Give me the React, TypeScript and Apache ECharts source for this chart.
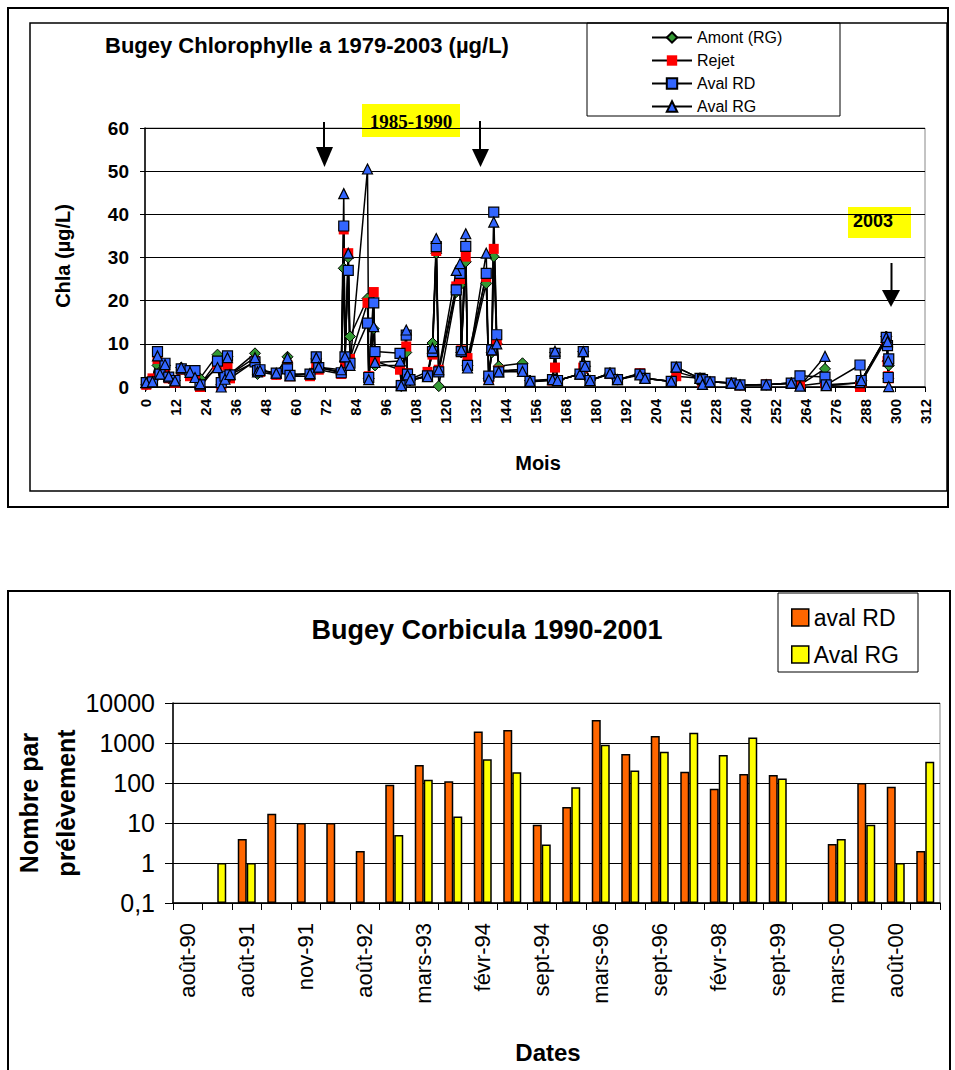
import React, { useEffect, useRef } from 'react';
import * as echarts from 'echarts';

// ---------- Chart 1 : Bugey Chlorophylle a (µg/L) ----------
const chlaMonths = [
  0.5, 3, 5, 6, 8, 9.5, 12, 14.5, 18, 20, 22,
  29, 30.5, 32, 33, 34,
  44, 45, 46, 52.5, 57, 58, 66, 68.5, 69.5,
  78.5, 79.5, 80, 81.3, 82,
  89, 89.5, 91.5, 92,
  102, 102.5, 104.5, 105, 106,
  113, 115, 116.5, 117.5,
  124.5, 126, 126.5, 128.3, 129,
  136.5, 137.5, 138.7, 139.5, 140.7, 141.5,
  151, 154,
  163, 164, 165,
  174, 175.3, 176, 178,
  186, 189,
  198, 200,
  210.5, 212.5,
  222, 223, 226,
  234.5, 238,
  248.5,
  258.5, 262,
  272, 272.5,
  286, 286.5,
  296.5, 297, 297.3, 297.5,
];
const amontRG = [
  0.5, 1.5, 5, 3.5, 5, 2, 1.5, 4.5, 3.5, 2.5, 2,
  7.5, 0.5, 2, 7, 3,
  7.8, 3, 4, 3, 7, 3, 3, 6.5, 4.5,
  3.5, 27.5, 6, 30, 11.7,
  20.5, 2, 13.5, 5,
  5, 0.2, 8, 3, 1.5,
  2.5, 10.2, 31, 0.2,
  22, 23.6, 8, 29, 5,
  24, 2, 8, 30.2, 10, 4.8,
  5.5, 1.5,
  1.8, 8, 1.5,
  3, 8.2, 4.8, 1.5,
  3.2, 1.7,
  3, 2,
  1.3, 3.5,
  2, 0.6, 1.2,
  0.9, 0.5,
  0.5,
  0.9, 0.5,
  4.2, 0.5,
  1, 1.5,
  11.7, 6, 2, 5,
];
const rejet = [
  0.5, 2, 6.5, 3, 4.5, 2, 1, 4, 2.5, 3, 0,
  5, 0.3, 2, 5, 2,
  6, 3.5, 3.5, 2.8, 5, 2.5, 2.5, 5.5, 4,
  3, 36.5, 5.5, 31, 6.5,
  19.5, 2.5, 22, 6,
  4, 0.5, 9.4, 3.2, 1.8,
  3.5, 7.5, 31.5, 4,
  23.3, 25, 8.5, 30.2, 6.7,
  25.5, 2, 8.5, 32, 10.8, 3.8,
  4, 1.2,
  1.5, 4.5, 1.5,
  3, 4.5, 4.8, 1.5,
  3, 1.7,
  3.2, 2,
  1.3, 2.5,
  2, 0.8, 1.2,
  0.9, 0.4,
  0.6,
  0.8, 0.3,
  1, 0.3,
  0, 1,
  11, 6, 2.5, 2,
];
const avalRD = [
  1, 1.2, 8.2, 3, 5.5, 2.3, 1.5, 4.2, 3.8, 3.8, 0.5,
  6, 1, 2.5, 7.2, 2.8,
  5.8, 3.8, 4, 3.2, 4.2, 2.7, 3, 7, 4.5,
  3.3, 37.3, 7, 27, 5.5,
  14.8, 2.2, 19.5, 8.2,
  7.8, 0.3, 12, 3, 1.7,
  2.6, 8.2, 32.5, 3.5,
  22.5, 26.3, 8.2, 32.6, 5,
  26.3, 2.5, 8.6, 40.5, 12.1, 3.5,
  4.2, 1.3,
  1.7, 7.8, 1.5,
  3, 8.2, 4.8, 1.5,
  3.2, 1.7,
  3, 2,
  1.3, 4.6,
  2, 1.7, 1.2,
  0.9, 0.5,
  0.5,
  0.9, 2.6,
  2.3, 0.5,
  5.1, 1.5,
  11.5, 9.6, 2.2, 6.5,
];
const avalRG = [
  1, 1.2, 7.2, 3, 5.2, 2.5, 1.4, 4.5, 3.4, 2.2, 0.8,
  4.5, 0, 1.8, 6.8, 2.9,
  6.8, 3.5, 3.8, 3.2, 6.8, 2.6, 3.1, 6.8, 4.6,
  4, 44.8, 7, 31, 5,
  50.5, 1.7, 14, 5.7,
  6, 0.3, 13.2, 2.8, 1.6,
  2.4, 9, 34.4, 4,
  27, 28.6, 8.6, 35.5, 4.4,
  31, 1.7, 8.6, 38.2, 10, 3.5,
  3.6, 1.3,
  1.7, 8.3, 1.5,
  3, 8.2, 4.8, 1.5,
  3.2, 1.7,
  2.8, 2,
  1.3, 4.6,
  2, 0.6, 1.2,
  0.9, 0.5,
  0.5,
  0.9, 0.2,
  7.1, 0.3,
  1, 1.5,
  11.5, 10.5, 6, 0.1,
];
const chlaSeriesNames = ['Amont (RG)', 'Rejet', 'Aval RD', 'Aval RG'];

// ---------- Chart 2 : Bugey Corbicula 1990-2001 ----------
const corbDates = [
  'août-90', 'nov-90', 'août-91', 'sept-91', 'nov-91', 'mars-92', 'août-92', 'sept-92',
  'mars-93', 'août-93', 'févr-94', 'juin-94', 'sept-94', 'mars-95', 'mars-96', 'juin-96',
  'sept-96', 'mars-97', 'févr-98', 'sept-98', 'sept-99', 'nov-99', 'mars-00', 'juin-00',
  'août-00', 'sept-00',
];
const corbAvalRD = [null, null, 4, 17, 10, 10, 2, 90, 280, 110, 1950, 2100, 9, 25, 3750, 530, 1500, 190, 72, 168, 158, null, 3, 100, 81, 2];
const corbAvalRG = [null, 1, 1, null, null, null, null, 5, 120, 14.5, 390, 185, 2.9, 78, 900, 205, 600, 1800, 500, 1380, 130, null, 4, 9, 1, 340];
const corbSeriesNames = ['aval RD', 'Aval RG'];
const corbColors = ['#ff6600', '#ffff00'];

const FONT = '"Liberation Sans", Arial, sans-serif';

export default function App() {
  const ref = useRef<HTMLDivElement>(null);

  useEffect(() => {
    document.body.style.margin = '0';
    if (!ref.current) return;
    const chart = echarts.init(ref.current, undefined, { renderer: 'svg' });

    const pairs = (vals: number[]) => chlaMonths.map((m, i) => [m, vals[i]]);
    const lineBase = {
      type: 'line',
      xAxisIndex: 0,
      yAxisIndex: 0,
      symbolSize: 10,
      lineStyle: { color: '#000', width: 1.5 },
      emphasis: { disabled: true },
    };

    const option: any = {
      animation: false,
      textStyle: { fontFamily: FONT, color: '#000' },
      grid: [
        { left: 145, top: 128, width: 780, height: 259, show: true, borderColor: '#888', borderWidth: 1, backgroundColor: 'transparent' },
        { left: 173, top: 703, width: 767, height: 200, show: true, borderColor: '#888', borderWidth: 1, backgroundColor: 'transparent' },
      ],
      xAxis: [
        {
          gridIndex: 0, type: 'value', min: 0, max: 312, interval: 12,
          axisLine: { show: true, lineStyle: { color: '#000', width: 1.5 } },
          axisTick: { show: true, length: 5, lineStyle: { color: '#000' } },
          axisLabel: { rotate: 90, fontSize: 15, fontWeight: 'bold', color: '#000', margin: 12, fontFamily: FONT },
          splitLine: { show: false },
        },
        {
          gridIndex: 1, type: 'category', data: corbDates, boundaryGap: true,
          axisLine: { show: true, lineStyle: { color: '#000', width: 1.5 } },
          axisTick: { show: true, interval: 0, length: 7, lineStyle: { color: '#000' } },
          axisLabel: { interval: 1, rotate: 90, fontSize: 22, color: '#000', margin: 20, fontFamily: FONT },
          splitLine: { show: false },
        },
      ],
      yAxis: [
        {
          gridIndex: 0, type: 'value', min: 0, max: 60, interval: 10,
          axisLine: { show: true, lineStyle: { color: '#000', width: 1.5 } },
          axisTick: { show: true, length: 5, lineStyle: { color: '#000' } },
          axisLabel: { fontSize: 19, fontWeight: 'bold', color: '#000', margin: 16, fontFamily: FONT },
          splitLine: { show: true, lineStyle: { color: '#000', width: 1 } },
        },
        {
          gridIndex: 1, type: 'log', logBase: 10, min: 0.1, max: 10000, startValue: 0.1,
          axisLine: { show: true, lineStyle: { color: '#000', width: 1.5 } },
          axisTick: { show: true, length: 8, lineStyle: { color: '#000' } },
          axisLabel: {
            fontSize: 25, color: '#000', margin: 18, fontFamily: FONT,
            formatter: (v: number) => String(Math.round(v * 10) / 10).replace('.', ','),
          },
          splitLine: { show: true, lineStyle: { color: '#000', width: 1 } },
        },
      ],
      legend: [
        {
          data: chlaSeriesNames, orient: 'vertical', left: 646, top: 24,
          itemWidth: 40, itemHeight: 13, itemGap: 6,
          textStyle: { fontSize: 16, color: '#000', fontFamily: FONT, lineHeight: 17 },
        },
        {
          data: corbSeriesNames.map((n, i) => ({
            name: n, icon: 'rect',
            itemStyle: { color: corbColors[i], borderColor: '#000', borderWidth: 1.5 },
          })),
          orient: 'vertical', left: 786, top: 601,
          itemWidth: 17, itemHeight: 17, itemGap: 14, icon: 'rect',
          textStyle: { fontSize: 23, color: '#000', fontFamily: FONT },
        },
      ],
      series: [
        { ...lineBase, name: chlaSeriesNames[0], data: pairs(amontRG), symbol: 'diamond', symbolSize: 11, itemStyle: { color: '#339933', borderColor: '#000', borderWidth: 1 } },
        { ...lineBase, name: chlaSeriesNames[1], data: pairs(rejet), symbol: 'rect', itemStyle: { color: '#ff0000', borderWidth: 0 } },
        { ...lineBase, name: chlaSeriesNames[2], data: pairs(avalRD), symbol: 'rect', itemStyle: { color: '#3366ff', borderColor: '#000', borderWidth: 1.2 } },
        { ...lineBase, name: chlaSeriesNames[3], data: pairs(avalRG), symbol: 'triangle', itemStyle: { color: '#3366ff', borderColor: '#000', borderWidth: 1.2 } },
        {
          type: 'bar', name: corbSeriesNames[0], xAxisIndex: 1, yAxisIndex: 1,
          data: corbAvalRD.map((v) => (v == null ? '-' : v)), barWidth: 9, barGap: '0%',
          itemStyle: { color: corbColors[0], borderColor: '#000', borderWidth: 1.5 },
        },
        {
          type: 'bar', name: corbSeriesNames[1], xAxisIndex: 1, yAxisIndex: 1,
          data: corbAvalRG.map((v) => (v == null ? '-' : v)), barWidth: 9, barGap: '0%',
          itemStyle: { color: corbColors[1], borderColor: '#000', borderWidth: 1.5 },
        },
      ],
      graphic: [
        // frames
        { type: 'rect', silent: true, shape: { x: 8, y: 8, width: 940, height: 499 }, style: { fill: 'none', stroke: '#000', lineWidth: 2 } },
        { type: 'rect', silent: true, shape: { x: 30, y: 23, width: 917, height: 468 }, style: { fill: 'none', stroke: '#000', lineWidth: 1.5 } },
        { type: 'rect', silent: true, shape: { x: 8, y: 591, width: 942, height: 500 }, style: { fill: 'none', stroke: '#000', lineWidth: 2 } },
        // legend boxes
        { type: 'rect', silent: true, shape: { x: 587, y: 23, width: 253, height: 93 }, style: { fill: 'none', stroke: '#000', lineWidth: 1 } },
        { type: 'rect', silent: true, shape: { x: 778, y: 593, width: 140, height: 79 }, style: { fill: 'none', stroke: '#000', lineWidth: 1 } },
        // titles
        { type: 'text', x: 105, y: 45, style: { text: 'Bugey Chlorophylle a 1979-2003 (µg/L)', fontSize: 22, fontWeight: 'bold', fontFamily: FONT, fill: '#000', align: 'left', verticalAlign: 'middle' } },
        { type: 'text', x: 487, y: 630, style: { text: 'Bugey Corbicula 1990-2001', fontSize: 27, fontWeight: 'bold', fontFamily: FONT, fill: '#000', align: 'center', verticalAlign: 'middle' } },
        // axis names
        { type: 'text', x: 63, y: 256, rotation: Math.PI / 2, style: { text: 'Chla (µg/L)', fontSize: 20, fontWeight: 'bold', fontFamily: FONT, fill: '#000', align: 'center', verticalAlign: 'middle' } },
        { type: 'text', x: 538, y: 463, style: { text: 'Mois', fontSize: 20, fontWeight: 'bold', fontFamily: FONT, fill: '#000', align: 'center', verticalAlign: 'middle' } },
        { type: 'text', x: 47, y: 803, rotation: Math.PI / 2, style: { text: 'Nombre par\nprélèvement', fontSize: 25, fontWeight: 'bold', fontFamily: FONT, fill: '#000', align: 'center', verticalAlign: 'middle', lineHeight: 37 } },
        { type: 'text', x: 548, y: 1052, style: { text: 'Dates', fontSize: 24, fontWeight: 'bold', fontFamily: FONT, fill: '#000', align: 'center', verticalAlign: 'middle' } },
        // annotations
        { type: 'rect', silent: true, shape: { x: 362, y: 104, width: 98, height: 33 }, style: { fill: '#ffff00' } },
        { type: 'text', x: 411, y: 121, style: { text: '1985-1990', fontSize: 19, fontWeight: 'bold', fontFamily: '"Liberation Serif", "Times New Roman", serif', fill: '#000', align: 'center', verticalAlign: 'middle' } },
        { type: 'rect', silent: true, shape: { x: 848, y: 207, width: 63, height: 31 }, style: { fill: '#ffff00' } },
        { type: 'text', x: 853, y: 221, style: { text: '2003', fontSize: 18, fontWeight: 'bold', fontFamily: FONT, fill: '#000', align: 'left', verticalAlign: 'middle' } },
        // arrows
        { type: 'line', silent: true, shape: { x1: 324, y1: 122, x2: 324, y2: 150 }, style: { stroke: '#000', lineWidth: 2 } },
        { type: 'polygon', silent: true, shape: { points: [[316, 147], [333, 147], [324.5, 167]] }, style: { fill: '#000' } },
        { type: 'line', silent: true, shape: { x1: 480, y1: 121, x2: 480, y2: 151 }, style: { stroke: '#000', lineWidth: 2 } },
        { type: 'polygon', silent: true, shape: { points: [[472, 149], [489, 149], [480.5, 167]] }, style: { fill: '#000' } },
        { type: 'line', silent: true, shape: { x1: 891.5, y1: 263, x2: 891.5, y2: 292 }, style: { stroke: '#000', lineWidth: 2 } },
        { type: 'polygon', silent: true, shape: { points: [[882, 290], [900, 290], [891, 307]] }, style: { fill: '#000' } },
      ],
    };

    chart.setOption(option);
    return () => chart.dispose();
  }, []);

  return <div ref={ref} style={{ width: 955, height: 1070 }} />;
}
